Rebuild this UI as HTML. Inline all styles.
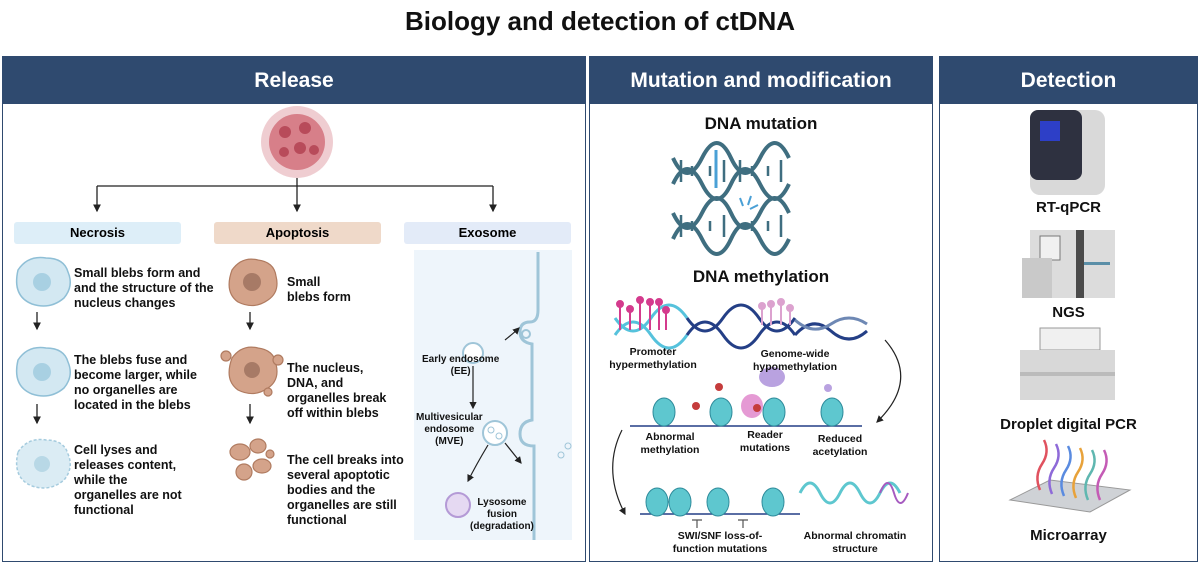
<!DOCTYPE html>
<html><head><meta charset="utf-8"><style>
body{margin:0;width:1200px;height:565px;background:#fff;font-family:"Liberation Sans",Arial,sans-serif;overflow:hidden;position:relative}
.t{position:absolute;font-weight:bold;color:#111}
.panel{position:absolute;top:56px;height:506px;border:1.5px solid #2f4a6f;box-sizing:border-box}
.hd{position:absolute;left:0;right:0;top:0;height:47px;background:#2f4a6f;color:#fff;font-weight:bold;font-size:21px;text-align:center;line-height:47px}
.lab{position:absolute;top:222px;height:22px;line-height:22px;width:167px;text-align:center;font-weight:bold;font-size:13px;border-radius:3px}
.d{font-size:12.5px;line-height:15px}
</style></head><body>
<div class="t" style="left:0;width:1200px;text-align:center;top:6px;font-size:26px">Biology and detection of ctDNA</div>
<div class="panel" style="left:2px;width:584px"><div class="hd">Release</div></div>
<div class="panel" style="left:589px;width:344px"><div class="hd">Mutation and modification</div></div>
<div class="panel" style="left:939px;width:259px"><div class="hd">Detection</div></div>

<svg width="1200" height="565" style="position:absolute;left:0;top:0">
<defs><marker id="a" markerWidth="6" markerHeight="6" refX="5" refY="3" orient="auto"><path d="M0,0L6,3L0,6z" fill="#222"/></marker></defs>
<g>
<circle cx="297" cy="142" r="36" fill="#e8b8bd" opacity=".7"/>
<circle cx="297" cy="142" r="28" fill="#d77f89"/>
<circle cx="285" cy="132" r="6" fill="#b84b5a"/><circle cx="305" cy="128" r="6" fill="#b84b5a"/><circle cx="300" cy="148" r="6" fill="#b84b5a"/><circle cx="284" cy="152" r="5" fill="#b84b5a"/><circle cx="314" cy="150" r="5" fill="#b84b5a"/>
</g>
<g stroke="#222" stroke-width="1.3" fill="none">
<path d="M297 178V186M97 186H493"/>
<path d="M97 186V211" marker-end="url(#a)"/><path d="M297 186V211" marker-end="url(#a)"/><path d="M493 186V211" marker-end="url(#a)"/>
<path d="M37 312V329" marker-end="url(#a)"/><path d="M37 404V423" marker-end="url(#a)"/>
<path d="M250 312V329" marker-end="url(#a)"/><path d="M250 404V423" marker-end="url(#a)"/>
</g>
<g fill="#d3e8f2" stroke="#8fbfd6" stroke-width="1.5">
<path d="M18 270q10-15 28-12q18 0 22 14q6 14-4 26q-14 12-32 6q-20-8-14-34z"/>
<path d="M18 360q10-15 28-12q18 0 22 14q6 14-4 26q-14 12-32 6q-20-8-14-34z"/>
<path d="M18 452q10-15 28-12q18 0 22 14q6 14-4 26q-14 12-32 6q-20-8-14-34z" stroke-dasharray="3 2" opacity=".8"/>
</g>
<circle cx="42" cy="282" r="9" fill="#a8d0e2"/><circle cx="42" cy="372" r="9" fill="#a8d0e2"/><circle cx="42" cy="464" r="8" fill="#b8d8e6"/>
<g fill="#d4a38a" stroke="#b07b60" stroke-width="1.2">
<path d="M232 270q10-14 26-10q16 2 18 16q4 16-8 24q-14 10-30 2q-14-10-6-32z"/>
<path d="M232 358q10-14 26-10q16 2 18 16q4 16-8 24q-14 10-30 2q-14-10-6-32z"/>
<circle cx="226" cy="356" r="5"/><circle cx="278" cy="360" r="5"/><circle cx="268" cy="392" r="4"/>
<ellipse cx="240" cy="452" rx="10" ry="8"/><ellipse cx="258" cy="446" rx="8" ry="7"/><ellipse cx="262" cy="466" rx="9" ry="7"/><ellipse cx="244" cy="472" rx="8" ry="8"/><circle cx="270" cy="454" r="4"/>
</g>
<circle cx="252" cy="282" r="9" fill="#a77a66"/><circle cx="252" cy="370" r="8" fill="#a77a66"/>
<rect x="414" y="250" width="158" height="290" fill="#eef5fb"/>
<g fill="none" stroke="#9fc5d8" stroke-width="3">
<path d="M538 252V310q0 12-8 12q-10 0-10 10t12 12V420q-12 2-12 14t14 12V540"/>
</g>
<circle cx="526" cy="334" r="4" fill="none" stroke="#9fc5d8" stroke-width="2"/>
<circle cx="473" cy="353" r="10" fill="#fff" stroke="#9fc5d8" stroke-width="2"/>
<circle cx="495" cy="433" r="12" fill="#fff" stroke="#9fc5d8" stroke-width="2"/>
<circle cx="491" cy="430" r="3" fill="none" stroke="#9fc5d8"/><circle cx="499" cy="436" r="3" fill="none" stroke="#9fc5d8"/>
<circle cx="458" cy="505" r="12" fill="#e5d9f2" stroke="#b49ad6" stroke-width="2"/>
<circle cx="568" cy="446" r="3" fill="none" stroke="#9fc5d8"/><circle cx="561" cy="455" r="3" fill="none" stroke="#9fc5d8"/>
<g stroke="#222" stroke-width="1.2" fill="none">
<path d="M505 340q10-8 14-12" marker-end="url(#a)"/>
<path d="M473 366V408" marker-end="url(#a)"/>
<path d="M488 445q-12 20-20 36" marker-end="url(#a)"/>
<path d="M505 443l16 20" marker-end="url(#a)"/>
</g>
<g fill="none" stroke="#3f6e80" stroke-width="4">
<path d="M673 158q14 30 29 0t29 0t29 0t29 0"/><path d="M673 184q14-30 29 0t29 0t29 0t29 0"/>
<path d="M673 213q14 30 29 0t29 0t29 0t29 0"/><path d="M673 239q14-30 29 0t29 0t29 0t29 0"/>
</g>
<g stroke="#3f6e80" stroke-width="2.5">
<path d="M681 160v22M692 166v10M710 166v10M724 160v22M740 160v22M752 166v10M768 166v10M781 160v22"/>
<path d="M681 215v22M692 221v10M710 221v10M724 215v22M752 221v10M768 221v10M781 215v22"/>
</g>
<path d="M716 150v38" stroke="#4aa0d6" stroke-width="3"/>
<path d="M740 198l3 8M751 196l-3 9M758 205l-8 4" stroke="#4aa0d6" stroke-width="2"/>
<g fill="none" stroke-width="3">
<path d="M615 335q18-26 36 0t36 0" stroke="#56c2dc"/><path d="M615 318q18 26 36 0t36 0" stroke="#56c2dc"/>
<path d="M687 335q18-26 36 0t36 0t36 0" stroke="#243f86"/><path d="M687 318q18 26 36 0t36 0t36 0" stroke="#243f86"/>
<path d="M795 335q18-20 36-4t36 0" stroke="#243f86"/><path d="M795 320q18 16 36 4t36 0" stroke="#6e88b4"/>
</g>
<g stroke="#d43b8d" stroke-width="2" fill="#d43b8d">
<line x1="620" y1="306" x2="620" y2="330"/><circle cx="620" cy="304" r="3"/>
<line x1="630" y1="311" x2="630" y2="330"/><circle cx="630" cy="309" r="3"/>
<line x1="640" y1="302" x2="640" y2="330"/><circle cx="640" cy="300" r="3"/>
<line x1="650" y1="304" x2="650" y2="330"/><circle cx="650" cy="302" r="3"/>
<line x1="659" y1="304" x2="659" y2="330"/><circle cx="659" cy="302" r="3"/>
<line x1="666" y1="312" x2="666" y2="330"/><circle cx="666" cy="310" r="3"/>
</g>
<g stroke="#dca2cf" stroke-width="2" fill="#dca2cf">
<line x1="762" y1="308" x2="762" y2="325"/><circle cx="762" cy="306" r="3"/>
<line x1="771" y1="305" x2="771" y2="325"/><circle cx="771" cy="304" r="3"/>
<line x1="781" y1="303" x2="781" y2="325"/><circle cx="781" cy="302" r="3"/>
<line x1="790" y1="309" x2="790" y2="325"/><circle cx="790" cy="308" r="3"/>
</g>
<path d="M630 426H862" stroke="#243f86" stroke-width="1.5"/>
<path d="M640 514H800" stroke="#243f86" stroke-width="1.5"/>
<g fill="#5ec7cf" stroke="#2d8a9a">
<ellipse cx="664" cy="412" rx="11" ry="14"/><ellipse cx="721" cy="412" rx="11" ry="14"/><ellipse cx="774" cy="412" rx="11" ry="14"/><ellipse cx="832" cy="412" rx="11" ry="14"/>
<ellipse cx="657" cy="502" rx="11" ry="14"/><ellipse cx="680" cy="502" rx="11" ry="14"/><ellipse cx="718" cy="502" rx="11" ry="14"/><ellipse cx="773" cy="502" rx="11" ry="14"/>
</g>
<ellipse cx="772" cy="377" rx="13" ry="10" fill="#b9a2e0"/><ellipse cx="752" cy="406" rx="11" ry="12" fill="#e59ad4"/>
<circle cx="719" cy="387" r="4" fill="#c53c3c"/><circle cx="696" cy="406" r="4" fill="#c53c3c"/><circle cx="757" cy="408" r="4" fill="#c53c3c"/><circle cx="828" cy="388" r="4" fill="#b9a2e0"/>
<path d="M800 493q10-20 20 0t20 0t20 0t20 0t20 0" fill="none" stroke="#5ec7cf" stroke-width="3"/>
<path d="M880 493q8-20 14 0t14 0" fill="none" stroke="#a65bc0" stroke-width="2"/>
<g stroke="#222" stroke-width="1.2" fill="none">
<path d="M885 340q35 40 -8 82" marker-end="url(#a)"/>
<path d="M622 430q-20 40 3 84" marker-end="url(#a)"/>
</g>
<path d="M697 520v8M692 520h10M743 520v8M738 520h10" stroke="#555" stroke-width="1.2"/>
<!-- RT-qPCR -->
<rect x="1030" y="110" width="75" height="85" rx="10" fill="#d9d9d9"/>
<rect x="1030" y="110" width="52" height="70" rx="8" fill="#2e3140"/>
<rect x="1040" y="121" width="20" height="20" fill="#2d3fc7"/>
<!-- NGS -->
<rect x="1030" y="230" width="85" height="68" fill="#dcdcdc"/>
<rect x="1040" y="236" width="20" height="24" fill="#f0f0f0" stroke="#777"/>
<rect x="1076" y="230" width="8" height="68" fill="#4b4b4b"/>
<rect x="1084" y="262" width="26" height="3" fill="#5b8fa8"/>
<rect x="1022" y="258" width="30" height="40" fill="#c9c9c9"/>
<!-- droplet -->
<rect x="1040" y="328" width="60" height="22" fill="#f0f0f0" stroke="#999"/>
<rect x="1020" y="350" width="95" height="50" fill="#d8d8d8"/>
<rect x="1020" y="372" width="95" height="4" fill="#bbb"/>
<path d="M1010 500L1050 480L1130 490L1090 512Z" fill="#cfd2d6" stroke="#999"/>
<g fill="none" stroke-width="2.5">
<path d="M1040 490q-6-14 2-26t2-24" stroke="#e0525f"/><path d="M1052 494q-6-14 2-26t2-24" stroke="#8e6ad8"/>
<path d="M1064 496q-6-14 2-26t2-24" stroke="#5a8be0"/><path d="M1076 498q-6-14 2-26t2-24" stroke="#e8a23a"/>
<path d="M1088 500q-6-14 2-26t2-24" stroke="#5fb7b0"/><path d="M1100 500q-6-14 2-26t2-24" stroke="#c45bb5"/>
</g>
</svg>

<div class="lab" style="left:14px;background:#ddeef8">Necrosis</div>
<div class="lab" style="left:214px;background:#efd9c9">Apoptosis</div>
<div class="lab" style="left:404px;background:#e3ebf8">Exosome</div>

<div class="t d" style="left:74px;top:266px">Small blebs form and<br>and the structure of the<br>nucleus changes</div>
<div class="t d" style="left:74px;top:353px">The blebs fuse and<br>become larger, while<br>no organelles are<br>located in the blebs</div>
<div class="t d" style="left:74px;top:443px">Cell lyses and<br>releases content,<br>while the<br>organelles are not<br>functional</div>
<div class="t d" style="left:287px;top:275px">Small<br>blebs form</div>
<div class="t d" style="left:287px;top:361px">The nucleus,<br>DNA, and<br>organelles break<br>off within blebs</div>
<div class="t d" style="left:287px;top:453px">The cell breaks into<br>several apoptotic<br>bodies and the<br>organelles are still<br>functional</div>

<div class="t" style="left:422px;top:354px;font-size:10px;line-height:12px;text-align:center">Early endosome<br>(EE)</div>
<div class="t" style="left:416px;top:412px;font-size:10px;line-height:12px;text-align:center">Multivesicular<br>endosome<br>(MVE)</div>
<div class="t" style="left:470px;top:497px;font-size:10px;line-height:12px;text-align:center">Lysosome<br>fusion<br>(degradation)</div>

<div class="t" style="left:589px;width:344px;text-align:center;top:114px;font-size:17px">DNA mutation</div>
<div class="t" style="left:589px;width:344px;text-align:center;top:267px;font-size:17px">DNA methylation</div>
<div class="t" style="left:598px;width:110px;text-align:center;top:346px;font-size:10.5px;line-height:13px">Promoter<br>hypermethylation</div>
<div class="t" style="left:740px;width:110px;text-align:center;top:348px;font-size:10.5px;line-height:13px">Genome-wide<br>hypomethylation</div>
<div class="t" style="left:625px;width:90px;text-align:center;top:431px;font-size:10.5px;line-height:13px">Abnormal<br>methylation</div>
<div class="t" style="left:725px;width:80px;text-align:center;top:429px;font-size:10.5px;line-height:13px">Reader<br>mutations</div>
<div class="t" style="left:795px;width:90px;text-align:center;top:433px;font-size:10.5px;line-height:13px">Reduced<br>acetylation</div>
<div class="t" style="left:660px;width:120px;text-align:center;top:530px;font-size:10.5px;line-height:13px">SWI/SNF loss-of-<br>function mutations</div>
<div class="t" style="left:795px;width:120px;text-align:center;top:530px;font-size:10.5px;line-height:13px">Abnormal chromatin<br>structure</div>

<div class="t" style="left:939px;width:259px;text-align:center;top:199px;font-size:15px">RT-qPCR</div>
<div class="t" style="left:939px;width:259px;text-align:center;top:304px;font-size:15px">NGS</div>
<div class="t" style="left:939px;width:259px;text-align:center;top:416px;font-size:15px">Droplet digital PCR</div>
<div class="t" style="left:939px;width:259px;text-align:center;top:527px;font-size:15px">Microarray</div>
</body></html>
